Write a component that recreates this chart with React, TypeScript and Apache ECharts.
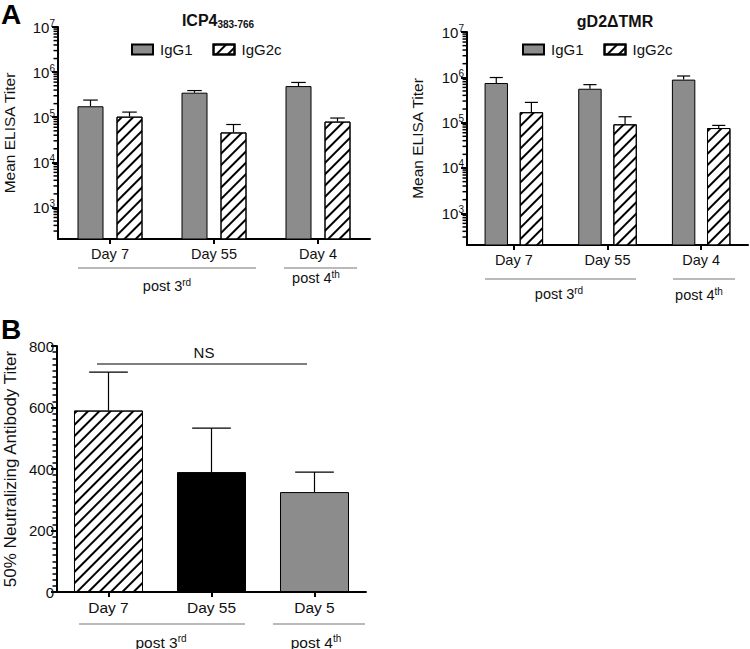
import React, { useEffect, useRef } from 'react';
import * as echarts from 'echarts';

// ---------- data ----------
const elisaDays = ['Day 7', 'Day 55', 'Day 4'];
const icpIgG1 = [175000, 350000, 490000];
const icpIgG1Upper = [240000, 390000, 590000];
const icpIgG2c = [103000, 46000, 80000];
const icpIgG2cUpper = [130000, 69000, 96000];
const gdIgG1 = [750000, 560000, 890000];
const gdIgG1Upper = [990000, 690000, 1070000];
const gdIgG2c = [170000, 92000, 76000];
const gdIgG2cUpper = [280000, 135000, 87000];

const nabDays = ['Day 7', 'Day 55', 'Day 5'];
const nabValues = [590, 390, 325];
const nabUpper = [715, 533, 390];

const logMinorMultipliers = [2, 3, 4, 5, 6, 7, 8, 9];
const logMinorExponents = [2, 3, 4, 5, 6];

const FONT = 'Liberation Sans, Arial, Helvetica, sans-serif';
const GRAY = '#8c8c8c';
const MINOR_TICK = '#000';

const hatch = {
  symbol: 'rect',
  symbolSize: 1,
  dashArrayX: [1, 0],
  dashArrayY: [2, 6],
  rotation: -Math.PI / 4,
  color: '#000',
};

const logMinorValues: number[] = [];
logMinorExponents.forEach((e) =>
  logMinorMultipliers.forEach((m) => {
    const v = m * Math.pow(10, e);
    if (v > 200 && v < 1e7) logMinorValues.push(v);
  })
);

function errRender(offset: number, barFrac: number) {
  return (params: any, api: any) => {
    const cat = api.value(0);
    const v = api.value(1);
    const u = api.value(2);
    const bw = api.size([1, 0])[0];
    const p0 = api.coord([cat, v]);
    const p1 = api.coord([cat, u]);
    const cx = p0[0] + offset * bw;
    const half = barFrac * bw * 0.28;
    return {
      type: 'group',
      children: [
        { type: 'line', shape: { x1: cx, y1: p0[1], x2: cx, y2: p1[1] }, style: { stroke: '#000', lineWidth: 1.2 } },
        { type: 'line', shape: { x1: cx - half, y1: p1[1], x2: cx + half, y2: p1[1] }, style: { stroke: '#000', lineWidth: 1.2 } },
      ],
    };
  };
}

function logYAxis(gridIndex: number, nameGap: number) {
  return {
    type: 'log',
    gridIndex,
    min: 200,
    max: 1e7,
    logBase: 10,
    name: 'Mean ELISA Titer',
    nameLocation: 'middle',
    nameGap,
    nameTextStyle: { fontFamily: FONT, fontSize: 15.5, color: '#111' },
    axisLine: { show: true, lineStyle: { color: '#000', width: 2 } },
    axisTick: { show: true, length: 6, lineStyle: { color: '#000', width: 2 } },
    splitLine: { show: false },
    axisLabel: {
      showMinLabel: false,
      margin: 3,
      fontFamily: FONT,
      fontSize: 15,
      color: '#111',
      formatter: (v: number) => {
        const e = Math.log10(v);
        if (Math.abs(e - Math.round(e)) > 1e-6) return '';
        return '10{sup|' + Math.round(e) + '}';
      },
      rich: {
        sup: { fontSize: 10, fontFamily: FONT, color: '#111', verticalAlign: 'bottom', padding: [0, 0, 8, 0] },
      },
    },
  };
}

function catXAxis(gridIndex: number, data: string[], fontSize: number) {
  return {
    type: 'category',
    gridIndex,
    data,
    axisLine: { show: true, lineStyle: { color: '#000', width: 2 } },
    axisTick: { show: true, alignWithLabel: true, length: 5, lineStyle: { color: '#000', width: 2 } },
    axisLabel: { margin: 7, fontFamily: FONT, fontSize, color: '#111' },
    splitLine: { show: false },
  };
}

function barSeries(name: string, idx: number, data: number[], isHatch: boolean) {
  return {
    type: 'bar',
    name,
    xAxisIndex: idx,
    yAxisIndex: idx,
    data,
    barGap: '50%',
    barCategoryGap: '37.5%',
    clip: true,
    itemStyle: isHatch
      ? { color: '#fff', borderColor: '#000', borderWidth: 1, decal: hatch }
      : { color: GRAY, borderColor: '#000', borderWidth: 1 },
  };
}

function errSeries(idx: number, vals: number[], ups: number[], offset: number, barFrac: number) {
  return {
    type: 'custom',
    xAxisIndex: idx,
    yAxisIndex: idx,
    renderItem: errRender(offset, barFrac),
    encode: { x: 0, y: [1, 2] },
    data: vals.map((v, i) => [i, v, ups[i]]),
    z: 3,
    silent: true,
  };
}

function legendAt(left: number, top: number) {
  return {
    left,
    top,
    icon: 'rect',
    itemWidth: 21,
    itemHeight: 10,
    itemGap: 20,
    data: ['IgG1', 'IgG2c'],
    textStyle: { fontFamily: FONT, fontSize: 15, color: '#111', padding: [0, 0, 0, 2] },
    selectedMode: false,
  };
}

function groupLabel(x1: number, x2: number, y: number, tx: number, ty: number, main: string, sup: string, fs: number) {
  return [
    { type: 'line', shape: { x1, y1: y, x2, y2: y }, style: { stroke: '#777', lineWidth: 1.2 } },
    {
      type: 'text',
      x: tx,
      y: ty,
      style: {
        text: main + '{sup|' + sup + '}',
        font: fs + 'px ' + FONT,
        fill: '#111',
        align: 'center',
        verticalAlign: 'middle',
        rich: { sup: { fontSize: 10, fontFamily: FONT, fill: '#111', verticalAlign: 'bottom', padding: [0, 0, 8, 0] } },
      },
    },
  ];
}

export default function App() {
  const ref = useRef<HTMLDivElement>(null);
  useEffect(() => {
    if (!ref.current) return;
    const chart = echarts.init(ref.current, undefined, { renderer: 'svg' });
    const baseGraphic: any[] = [
      { type: 'text', x: 1, y: 0, style: { text: 'A', font: 'bold 28px ' + FONT, fill: '#000' } },
      { type: 'text', x: 1, y: 315, style: { text: 'B', font: 'bold 28px ' + FONT, fill: '#000' } },
      ...groupLabel(78, 256, 268, 167, 286, 'post 3', 'rd', 14.5),
      ...groupLabel(284, 357, 268, 316, 278, 'post 4', 'th', 14.5),
      ...groupLabel(485, 636, 279, 559, 294, 'post 3', 'rd', 14.5),
      ...groupLabel(673, 735, 279, 699, 295, 'post 4', 'th', 14.5),
      ...groupLabel(79, 245, 624, 161, 642, 'post 3', 'rd', 15.5),
      ...groupLabel(273, 365, 624, 316, 642, 'post 4', 'th', 15.5),
      { type: 'line', shape: { x1: 97, y1: 364, x2: 307, y2: 364 }, style: { stroke: '#000', lineWidth: 1.2 } },
      {
        type: 'text',
        x: 204,
        y: 352,
        style: { text: 'NS', font: '15px ' + FONT, fill: '#111', align: 'center', verticalAlign: 'middle' },
      },
    ];
    const option: any = {
      animation: false,
      backgroundColor: '#fff',
      title: [
        {
          text: 'ICP4{sub|383-766}',
          left: 213,
          top: 6,
          textAlign: 'center',
          textStyle: {
            fontFamily: FONT,
            fontWeight: 'bold',
            fontSize: 16,
            color: '#111',
            rich: { sub: { fontFamily: FONT, fontWeight: 'bold', fontSize: 10, color: '#111', verticalAlign: 'top', padding: [8, 0, 0, 0] } },
          },
        },
        {
          text: 'gD2\u0394TMR',
          left: 610,
          top: 8,
          textAlign: 'center',
          textStyle: { fontFamily: FONT, fontWeight: 'bold', fontSize: 16, color: '#111' },
        },
      ],
      legend: [legendAt(126, 37), legendAt(517, 37)],
      grid: [
        { left: 58, top: 27, width: 312, height: 212 },
        { left: 467, top: 32, width: 281, height: 213 },
        { left: 57, top: 346, width: 309, height: 246 },
      ],
      xAxis: [catXAxis(0, elisaDays, 14.5), catXAxis(1, elisaDays, 14.5), catXAxis(2, nabDays, 15.5)],
      yAxis: [
        logYAxis(0, 41),
        logYAxis(1, 42),
        {
          type: 'value',
          gridIndex: 2,
          min: 0,
          max: 800,
          interval: 200,
          name: '50% Neutralizing Antibody Titer',
          nameLocation: 'middle',
          nameGap: 38,
          nameTextStyle: { fontFamily: FONT, fontSize: 17, color: '#111' },
          axisLine: { show: true, lineStyle: { color: '#000', width: 2 } },
          axisTick: { show: true, length: 6, lineStyle: { color: '#000', width: 2 } },
          minorTick: { show: true, splitNumber: 10, length: 4.5, lineStyle: { color: MINOR_TICK, width: 1.5 } },
          splitLine: { show: false },
          minorSplitLine: { show: false },
          axisLabel: { margin: 3, fontFamily: FONT, fontSize: 15, color: '#111' },
        },
      ],
      series: [
        barSeries('IgG1', 0, icpIgG1, false),
        barSeries('IgG2c', 0, icpIgG2c, true),
        errSeries(0, icpIgG1, icpIgG1Upper, -0.1875, 0.25),
        errSeries(0, icpIgG2c, icpIgG2cUpper, 0.1875, 0.25),
        barSeries('IgG1', 1, gdIgG1, false),
        barSeries('IgG2c', 1, gdIgG2c, true),
        errSeries(1, gdIgG1, gdIgG1Upper, -0.1875, 0.25),
        errSeries(1, gdIgG2c, gdIgG2cUpper, 0.1875, 0.25),
        {
          type: 'bar',
          name: 'NAb',
          xAxisIndex: 2,
          yAxisIndex: 2,
          barCategoryGap: '33%',
          data: nabValues.map((v, i) => ({
            value: v,
            itemStyle:
              i === 0
                ? { color: '#fff', borderColor: '#000', borderWidth: 1, decal: hatch }
                : i === 1
                ? { color: '#000', borderColor: '#000', borderWidth: 1 }
                : { color: GRAY, borderColor: '#000', borderWidth: 1 },
          })),
        },
        errSeries(2, nabValues, nabUpper, 0, 0.67),
      ],
      graphic: baseGraphic,
    };
    chart.setOption(option);

    // log-axis minor ticks, positioned through the axes' own scales
    const minorTicks: any[] = [];
    [0, 1].forEach((gi) => {
      const c0 = chart.convertToPixel({ xAxisIndex: gi }, 0) as number;
      const c1 = chart.convertToPixel({ xAxisIndex: gi }, 1) as number;
      const xLeft = c0 - (c1 - c0) / 2;
      logMinorValues.forEach((v) => {
        const y = chart.convertToPixel({ yAxisIndex: gi }, v) as number;
        if (typeof y === 'number' && isFinite(y)) {
          minorTicks.push({
            type: 'line',
            z: 50,
            shape: { x1: xLeft - 4.5, y1: y, x2: xLeft, y2: y },
            style: { stroke: MINOR_TICK, lineWidth: 1.5 },
          });
        }
      });
    });
    chart.setOption({ graphic: [...baseGraphic, ...minorTicks] });
    return () => chart.dispose();
  }, []);
  return (
    <div
      ref={ref}
      style={{ position: 'fixed', left: 0, top: 0, width: 750, height: 649, background: '#fff' }}
    />
  );
}
